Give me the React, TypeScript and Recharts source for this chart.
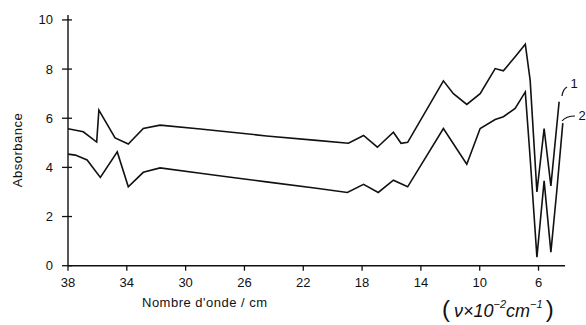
import React from 'react';
import { LineChart, Line, XAxis, YAxis } from 'recharts';

// curve 1 (upper) : wavenumber (x 10^2 cm-1) / absorbance
const wn1 = [38, 36.96, 36.05, 35.9, 34.8, 33.9, 32.88, 31.74, 29.0, 27.2, 24.5, 21.1, 18.93, 17.9, 16.96, 15.87, 15.35, 14.9, 12.47, 11.79, 10.88, 9.97, 8.95, 8.39, 7.59, 6.9, 6.57, 6.11, 5.62, 5.16, 4.6];
const abs1 = [5.57, 5.45, 5.03, 6.33, 5.2, 4.95, 5.58, 5.72, 5.56, 5.45, 5.28, 5.1, 4.98, 5.3, 4.82, 5.43, 4.98, 5.02, 7.52, 7.0, 6.56, 7.0, 8.02, 7.93, 8.5, 9.01, 7.55, 3.0, 5.58, 3.25, 6.67];

// curve 2 (lower)
const wn2 = [38, 37.5, 36.7, 35.8, 34.65, 33.9, 32.88, 31.74, 29.0, 27.2, 24.5, 21.1, 19.0, 17.9, 16.9, 15.87, 14.9, 12.47, 10.88, 9.97, 8.95, 8.39, 7.59, 6.9, 6.56, 6.11, 5.62, 5.16, 4.75, 4.35];
const abs2 = [4.54, 4.5, 4.3, 3.59, 4.63, 3.21, 3.8, 3.98, 3.76, 3.62, 3.41, 3.15, 2.98, 3.31, 2.98, 3.48, 3.21, 5.58, 4.13, 5.58, 5.95, 6.06, 6.4, 7.07, 4.3, 0.35, 3.45, 0.55, 3.1, 5.8];

const xTicks = [38, 34, 30, 26, 22, 18, 14, 10, 6];
const yTicks = [0, 2, 4, 6, 8, 10];

const FONT = '"Liberation Sans", Arial, sans-serif';
const INK = '#111';

const series1 = wn1.map((x, i) => ({ x, y: abs1[i] }));
const series2 = wn2.map((x, i) => ({ x, y: abs2[i] }));

const YTick = (props: any) => {
  const { x, y, payload } = props;
  return (
    <g>
      <line x1={x + 9} x2={x + 19} y1={y} y2={y} stroke={INK} strokeWidth={1.3} />
      <text x={x} y={y} dy="0.35em" textAnchor="end" fontSize={13} fontFamily={FONT} fill={INK}>
        {payload.value}
      </text>
    </g>
  );
};

const XTick = (props: any) => {
  const { x, y, payload } = props;
  return (
    <text x={x} y={y} dy="0.71em" textAnchor="middle" fontSize={13} fontFamily={FONT} fill={INK}>
      {payload.value}
    </text>
  );
};

export default function App() {
  return (
    <div style={{ position: 'absolute', left: 0, top: 0, width: 586, height: 325, background: '#fff' }}>
      <LineChart width={586} height={325} margin={{ top: 15, right: 21, bottom: 0, left: 0 }}>
        <XAxis
          type="number"
          dataKey="x"
          domain={[4.2, 38]}
          reversed
          allowDataOverflow
          ticks={xTicks}
          height={59.3}
          tickSize={5}
          tickMargin={7}
          tick={<XTick />}
          axisLine={{ stroke: INK, strokeWidth: 1.4 }}
          tickLine={{ stroke: INK, strokeWidth: 1.3 }}
        />
        <YAxis
          type="number"
          dataKey="y"
          domain={[0, 10.2]}
          ticks={yTicks}
          width={68}
          tickSize={0}
          tickMargin={15}
          tick={<YTick />}
          tickLine={false}
          axisLine={{ stroke: INK, strokeWidth: 1.4 }}
        />
        <Line data={series1} dataKey="y" type="linear" stroke={INK} strokeWidth={1.6} dot={false} isAnimationActive={false} />
        <Line data={series2} dataKey="y" type="linear" stroke={INK} strokeWidth={1.6} dot={false} isAnimationActive={false} />
      </LineChart>
      <svg width={586} height={325} style={{ position: 'absolute', left: 0, top: 0, pointerEvents: 'none' }}>
        <text
          transform="translate(22,150) rotate(-90)"
          textAnchor="middle"
          fontSize={13}
          letterSpacing={0.5}
          fontFamily={FONT}
          fill={INK}
        >
          Absorbance
        </text>
        <text x={142} y={307} fontSize={13} letterSpacing={0.5} fontFamily={FONT} fill={INK}>
          Nombre d'onde / cm
        </text>
        <path d="M562,96 Q563,89 567,87" fill="none" stroke={INK} strokeWidth={1.2} />
        <text x={574} y={88} textAnchor="middle" fontSize={13} fontFamily={FONT} fill={INK}>1</text>
        <path d="M562,121 Q566,116 575,116" fill="none" stroke={INK} strokeWidth={1.2} />
        <text x={582} y={120} textAnchor="middle" fontSize={13} fontFamily={FONT} fill={INK}>2</text>
        <text x={442} y={317} fontSize={18} fontFamily={FONT} fill={INK}>
          <tspan fontSize={24}>(</tspan>
          <tspan dx={4} fontStyle="italic">ν×10</tspan>
          <tspan dy={-9} fontSize={11} fontStyle="italic">−2</tspan>
          <tspan dy={9} fontStyle="italic">cm</tspan>
          <tspan dy={-9} fontSize={11} fontStyle="italic">−1</tspan>
          <tspan dy={9} dx={3} fontSize={24}>)</tspan>
        </text>
      </svg>
    </div>
  );
}
